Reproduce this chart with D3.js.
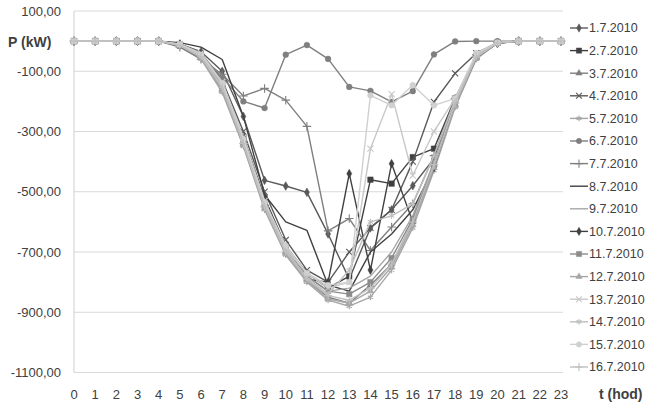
<!DOCTYPE html>
<html><head><meta charset="utf-8">
<script src="https://cdn.jsdelivr.net/npm/d3@7"></script>
<style>body{margin:0;background:#fff}svg{display:block}text{font-family:"Liberation Sans",Arial,sans-serif}</style>
</head><body><svg id="c" width="650" height="405"></svg>
<script>
const hours = d3.range(0, 24);
const seriesNames = ["1.7.2010","2.7.2010","3.7.2010","4.7.2010","5.7.2010","6.7.2010","7.7.2010","8.7.2010","9.7.2010","10.7.2010","11.7.2010","12.7.2010","13.7.2010","14.7.2010","15.7.2010","16.7.2010"];
const yTicks = [100,-100,-300,-500,-700,-900,-1100];
const s01 = [0,0,0,0,0,-10,-35,-100,-250,-462,-481,-502,-640,-790,-620,-560,-480,-390,-200,-55,-8,0,0,0];
const s02 = [0,0,0,0,0,-15,-50,-150,-320,-520,-680,-770,-820,-780,-460,-473,-385,-357,-190,-50,-5,0,0,0];
const s03 = [0,0,0,0,0,-12,-55,-160,-340,-545,-700,-790,-850,-870,-810,-740,-600,-410,-210,-55,-6,0,0,0];
const s04 = [0,0,0,0,0,-10,-40,-130,-300,-500,-660,-760,-800,-700,-620,-560,-400,-202,-107,-40,-5,0,0,0];
const s05 = [0,0,0,0,0,-18,-60,-170,-350,-560,-710,-800,-860,-880,-850,-760,-620,-430,-220,-60,-6,0,0,0];
const s06 = [0,0,0,0,0,-10,-45,-120,-200,-222,-45,-13,-59,-152,-165,-202,-166,-44,-1,0,0,0,0,0];
const s07 = [0,0,0,0,0,-20,-60,-110,-182,-157,-196,-283,-630,-589,-695,-617,-540,-380,-190,-45,-5,0,0,0];
const s08 = [0,0,0,0,0,-5,-20,-61,-250,-510,-600,-628,-810,-830,-700,-640,-560,-420,-210,-55,-6,0,0,0];
const s09 = [0,0,0,0,0,-12,-45,-140,-320,-530,-680,-780,-830,-820,-780,-700,-580,-400,-200,-50,-5,0,0,0];
const s10 = [0,0,0,0,0,-10,-45,-150,-330,-540,-700,-790,-800,-440,-760,-407,-600,-420,-200,-50,-6,0,0,0];
const s11 = [0,0,0,0,0,-12,-50,-150,-330,-540,-690,-780,-830,-840,-800,-720,-590,-410,-200,-50,-5,0,0,0];
const s12 = [0,0,0,0,0,-15,-55,-165,-345,-555,-705,-795,-855,-870,-830,-750,-610,-420,-215,-55,-6,0,0,0];
const s13 = [0,0,0,0,0,-10,-40,-135,-320,-530,-690,-770,-820,-800,-357,-176,-446,-300,-190,-45,-5,0,0,0];
const s14 = [0,0,0,0,0,-12,-48,-150,-335,-545,-695,-785,-840,-760,-600,-580,-540,-380,-195,-48,-5,0,0,0];
const s15 = [0,0,0,0,0,-10,-45,-140,-325,-535,-680,-770,-810,-800,-180,-213,-146,-213,-190,-40,-5,0,0,0];
const s16 = [0,0,0,0,0,-14,-52,-155,-340,-550,-700,-790,-845,-860,-820,-740,-600,-410,-205,-52,-6,0,0,0];
const values = [s01,s02,s03,s04,s05,s06,s07,s08,s09,s10,s11,s12,s13,s14,s15,s16];

const colors = ["#595959","#404040","#7f7f7f","#595959","#a6a6a6","#7f7f7f","#7f7f7f","#404040","#a6a6a6","#404040","#8c8c8c","#a6a6a6","#c8c8c8","#bfbfbf","#d0d0d0","#bfbfbf"];
const markers = ["diamond","square","triangle","times","asterisk","circle","plus",null,null,"diamond","square","triangle","times","asterisk","circle","plus"];
const symMap = {diamond:[d3.symbolDiamond,22,true],square:[d3.symbolSquare,30,true],triangle:[d3.symbolTriangle,20,true],times:[d3.symbolTimes,26,false],asterisk:[d3.symbolAsterisk,26,false],circle:[d3.symbolCircle,26,true],plus:[d3.symbolPlus,26,false]};

const svg = d3.select("#c");
const x = d3.scalePoint().domain(hours).range([74, 561]);
const y = d3.scaleLinear().domain([-1100, 100]).range([372.5, 11]);
const textCol = "#404040";

// gridlines
svg.append("g").selectAll("line").data(yTicks).join("line")
  .attr("x1", 74).attr("x2", 563).attr("y1", d => y(d)).attr("y2", d => y(d))
  .attr("stroke", "#d9d9d9").attr("stroke-width", 1);
svg.append("line").attr("x1", 74).attr("x2", 74).attr("y1", y(100)).attr("y2", y(-1100))
  .attr("stroke", "#d0d0d0").attr("stroke-width", 1);

// y axis labels
const fmt = d => d3.format(".2f")(d).replace(".", ",").replace("−","-");
svg.append("g").selectAll("text").data(yTicks).join("text")
  .attr("x", 61).attr("y", d => y(d)).attr("dy", "0.35em").attr("text-anchor", "end")
  .attr("font-size", 13).attr("fill", textCol).text(fmt);
// x axis labels
svg.append("g").selectAll("text").data(hours).join("text")
  .attr("x", d => x(d)).attr("y", 394).attr("dy", "0.35em").attr("text-anchor", "middle")
  .attr("font-size", 13).attr("fill", textCol).text(d => d);

svg.append("text").attr("x", 8).attr("y", 42).attr("dy", "0.35em").attr("font-size", 14)
  .attr("font-weight", "bold").attr("fill", textCol).text("P (kW)");
svg.append("text").attr("x", 599).attr("y", 394).attr("dy", "0.35em").attr("font-size", 14)
  .attr("font-weight", "bold").attr("fill", textCol).text("t (hod)");

const line = d3.line().x((d, i) => x(hours[i])).y(d => y(d));
function drawMarker(g, m, col, cx, cy, scale) {
  if (!m) return;
  const [t, sz, fill] = symMap[m];
  g.append("path").attr("d", d3.symbol(t, sz * scale)()).attr("transform", `translate(${cx},${cy})`)
    .attr("fill", fill ? col : "none").attr("stroke", col).attr("stroke-width", fill ? 0.5 : 1.1);
}
values.forEach((vals, si) => {
  const g = svg.append("g");
  g.append("path").datum(vals).attr("d", line).attr("fill", "none")
    .attr("stroke", colors[si]).attr("stroke-width", 1.4).attr("stroke-linejoin", "round");
  vals.forEach((v, i) => drawMarker(g, markers[si], colors[si], x(hours[i]), y(v), 1));
});

// legend
const lg = svg.append("g");
seriesNames.forEach((n, i) => {
  const ly = 28 + i * 22.6;
  lg.append("line").attr("x1", 570).attr("x2", 588).attr("y1", ly).attr("y2", ly)
    .attr("stroke", colors[i]).attr("stroke-width", 1.4);
  drawMarker(lg, markers[i], colors[i], 579, ly, 0.9);
  lg.append("text").attr("x", 589).attr("y", ly).attr("dy", "0.35em").attr("font-size", 12.5)
    .attr("fill", textCol).text(n);
});
</script></body></html>
